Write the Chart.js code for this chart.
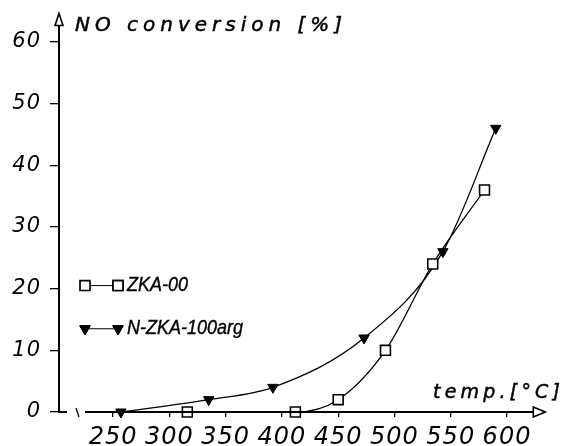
<!DOCTYPE html>
<html>
<head>
<meta charset="utf-8">
<script src="https://cdn.jsdelivr.net/npm/chart.js@4"></script>
<style>
  html, body { margin: 0; padding: 0; background: #fff; }
  #wrap { width: 567px; height: 446px; position: relative; }
</style>
</head>
<body>
<div id="wrap"><canvas id="c" width="567" height="446"></canvas></div>
<script>
// ---- data ----
const seriesNames = ['ZKA-00', 'N-ZKA-100arg'];
const tempZKA00 = [316, 412, 450, 492, 534, 580];
const convZKA00 = [0, 0, 2, 10, 24, 36];
const tempNZKA = [257, 335, 392, 473, 543, 590];
const convNZKA = [0, 2, 4, 12, 26, 46];
const xTickValues = [250, 300, 350, 400, 450, 500, 550, 600];
const yTickValues = [0, 10, 20, 30, 40, 50, 60];
const yAxisTitle = 'NO conversion [%]';
const xAxisTitle = 'temp.[°C]';

const toPoints = (xs, ys) => xs.map((x, i) => ({ x: x, y: ys[i] }));

function spacedText(ctx, text, x, y, targetWidth) {
  ctx.save();
  ctx.letterSpacing = '0px';
  const w = ctx.measureText(text).width;
  const sp = Math.max(0, (targetWidth - w) / (text.length - 1));
  ctx.letterSpacing = sp + 'px';
  ctx.lineWidth = 0.5;
  ctx.strokeStyle = '#000';
  ctx.fillText(text, x, y);
  ctx.strokeText(text, x, y);
  ctx.restore();
}

function stretchedText(ctx, text, x, y, sx) {
  ctx.save();
  ctx.translate(x, y);
  ctx.scale(sx, 1);
  ctx.lineWidth = 0.4;
  ctx.strokeStyle = '#000';
  ctx.fillText(text, 0, 0);
  ctx.strokeText(text, 0, 0);
  ctx.restore();
}

const decor = {
  id: 'decor',
  beforeDraw(chart) {
    chart.ctx.letterSpacing = '1px';
  },
  afterDraw(chart) {
    const ctx = chart.ctx;
    const a = chart.chartArea;
    const ys = chart.scales.y;
    const y0 = ys.getPixelForValue(0);
    ctx.save();
    ctx.letterSpacing = '0px';
    ctx.strokeStyle = '#000';
    ctx.fillStyle = '#000';
    // x axis with break mark
    ctx.lineWidth = 2;
    ctx.beginPath();
    ctx.moveTo(a.left - 1, y0); ctx.lineTo(a.left + 8, y0);
    ctx.moveTo(a.left + 26, y0); ctx.lineTo(a.right - 12, y0);
    ctx.stroke();
    ctx.lineWidth = 1.3;
    ctx.beginPath();
    ctx.moveTo(a.left + 17, y0 - 4); ctx.lineTo(a.left + 20, y0 + 5);
    ctx.stroke();
    // x arrow (hollow)
    ctx.lineWidth = 1.6;
    ctx.beginPath();
    ctx.moveTo(a.right - 12, y0 - 5);
    ctx.lineTo(a.right, y0);
    ctx.lineTo(a.right - 12, y0 + 5);
    ctx.closePath();
    ctx.fillStyle = '#fff'; ctx.fill(); ctx.stroke();
    // y arrow (hollow)
    ctx.beginPath();
    ctx.moveTo(a.left, a.top - 10);
    ctx.lineTo(a.left + 4, a.top + 2);
    ctx.lineTo(a.left - 4, a.top + 2);
    ctx.closePath();
    ctx.fill(); ctx.stroke();

    // axis titles
    ctx.fillStyle = '#000';
    ctx.textBaseline = 'alphabetic';
    ctx.textAlign = 'left';
    ctx.font = 'italic 20px "DejaVu Sans"';
    spacedText(ctx, yAxisTitle, a.left + 16, a.top + 7, 267);
    ctx.font = 'italic 19px "DejaVu Sans"';
    spacedText(ctx, xAxisTitle, 433, y0 - 14, 127);

    // legend
    const legY = [ys.getPixelForValue(20.5), ys.getPixelForValue(13.5)];
    ctx.font = 'italic 20px "Liberation Sans Narrow", "Liberation Sans"';
    const sx = 61 / ctx.measureText(seriesNames[0]).width;
    chart.data.datasets.forEach((ds, i) => {
      const yy = legY[i];
      const x1 = a.left + 26, x2 = a.left + 59;
      ctx.strokeStyle = '#000';
      ctx.lineWidth = 1;
      ctx.beginPath(); ctx.moveTo(x1, yy); ctx.lineTo(x2, yy); ctx.stroke();
      [x1, x2].forEach(px => {
        Chart.helpers.drawPoint(ctx, {
          pointStyle: ds.pointStyle,
          radius: ds.pointRadius,
          rotation: ds.rotation || 0,
          borderWidth: ds.pointBorderWidth
        }, px, yy);
        ctx.fillStyle = ds.pointBackgroundColor;
        ctx.strokeStyle = '#000';
        ctx.lineWidth = ds.pointBorderWidth;
        ctx.fill();
        ctx.stroke();
      });
      ctx.fillStyle = '#000';
      ctx.textBaseline = 'middle';
      stretchedText(ctx, ds.label, a.left + 68, yy, sx);
    });
    ctx.restore();
  }
};

new Chart(document.getElementById('c'), {
  type: 'line',
  data: {
    datasets: [
      {
        label: seriesNames[0],
        data: toPoints(tempZKA00, convZKA00),
        borderColor: '#000',
        borderWidth: 1.3,
        cubicInterpolationMode: 'monotone',
        pointStyle: 'rect',
        pointRadius: 7,
        pointBorderWidth: 1.6,
        pointBackgroundColor: '#fff',
        pointBorderColor: '#000',
        clip: false
      },
      {
        label: seriesNames[1],
        data: toPoints(tempNZKA, convNZKA),
        borderColor: '#000',
        borderWidth: 1.3,
        cubicInterpolationMode: 'monotone',
        pointStyle: 'triangle',
        rotation: 180,
        pointRotation: 180,
        pointRadius: 6,
        pointBorderWidth: 1,
        pointBackgroundColor: '#000',
        pointBorderColor: '#000',
        clip: false
      }
    ]
  },
  options: {
    responsive: false,
    animation: false,
    devicePixelRatio: 1,
    layout: { padding: { top: 23.5, right: 21.7, left: 0, bottom: 0 } },
    plugins: { legend: { display: false }, tooltip: { enabled: false } },
    scales: {
      x: {
        type: 'linear',
        min: 202,
        max: 634,
        afterBuildTicks: s => { s.ticks = xTickValues.map(v => ({ value: v })); },
        afterFit: s => { s.height = 34; },
        grid: { drawOnChartArea: false, drawTicks: true, tickLength: 5, color: '#000', lineWidth: 1.3 },
        border: { display: false },
        ticks: {
          color: '#000',
          padding: 6,
          maxRotation: 0,
          autoSkip: false,
          font: { family: 'DejaVu Sans', style: 'italic', size: 24 }
        }
      },
      y: {
        type: 'linear',
        min: 0,
        max: 63,
        afterBuildTicks: s => { s.ticks = yTickValues.map(v => ({ value: v })); },
        afterFit: s => { s.width = 59; },
        grid: { drawOnChartArea: false, drawTicks: true, tickLength: 9, color: '#000', lineWidth: 1.3 },
        border: { display: true, color: '#000', width: 2 },
        ticks: {
          color: '#000',
          padding: 9,
          autoSkip: false,
          font: { family: 'DejaVu Sans', style: 'italic', size: 21 }
        }
      }
    }
  },
  plugins: [decor]
});
</script>
</body>
</html>
